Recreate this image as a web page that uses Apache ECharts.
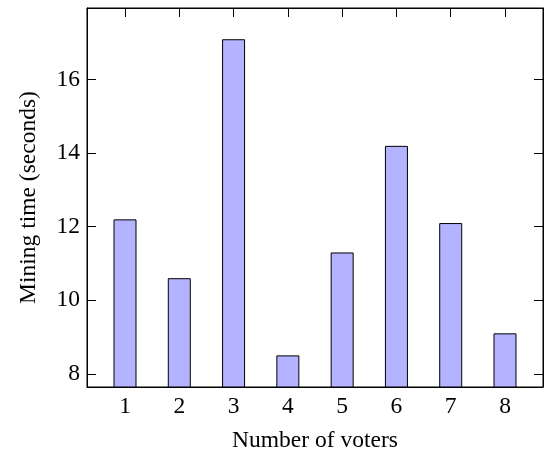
<!DOCTYPE html>
<html>
<head>
<meta charset="utf-8">
<script src="https://cdn.jsdelivr.net/npm/echarts@6/dist/echarts.min.js"></script>
<style>html,body{margin:0;padding:0;background:#fff}#c{width:550px;height:454px}</style>
</head>
<body>
<div id="c"></div>
<script>
const categories = [1, 2, 3, 4, 5, 6, 7, 8];
const miningTime = [12.2, 10.6, 17.1, 8.5, 11.3, 14.2, 12.1, 9.1];
const yTicks = [8, 10, 12, 14, 16];

const font = 'Liberation Serif, Times New Roman, serif';
const fs = 23.5;
const chart = echarts.init(document.getElementById('c'), null, {renderer: 'canvas'});
const xMin = 0.3, xMax = 8.7, yMin = 7.64, yMax = 17.95;
const tickLen = 9;

chart.setOption({
  animation: false,
  grid: {left: 87, top: 8, right: 7, bottom: 67, containLabel: false, outerBoundsMode: 'none', show: true, borderColor: '#000', borderWidth: 1, backgroundColor: 'transparent'},
  xAxis: [{
    type: 'value', min: xMin, max: xMax, position: 'bottom',
    name: 'Number of voters', nameLocation: 'middle', nameGap: 42,
    nameTextStyle: {fontFamily: font, fontSize: fs, color: '#000'},
    axisLine: {show: true, onZero: false, lineStyle: {color: '#000', width: 1}},
    axisTick: {show: true, inside: true, length: tickLen, customValues: categories, lineStyle: {color: '#000', width: 1}},
    axisLabel: {show: true, customValues: categories, fontFamily: font, fontSize: fs, color: '#000', margin: 8},
    splitLine: {show: false}
  }, {
    type: 'value', min: xMin, max: xMax, position: 'top',
    axisLine: {show: true, onZero: false, lineStyle: {color: '#000', width: 1}},
    axisTick: {show: true, inside: true, length: tickLen, customValues: categories, lineStyle: {color: '#000', width: 1}},
    axisLabel: {show: false},
    splitLine: {show: false}
  }],
  yAxis: [{
    type: 'value', min: yMin, max: yMax, position: 'left',
    name: 'Mining time (seconds)', nameLocation: 'middle', nameGap: 46, nameRotate: 90,
    nameTextStyle: {fontFamily: font, fontSize: fs, color: '#000'},
    axisLine: {show: true, onZero: false, lineStyle: {color: '#000', width: 1}},
    axisTick: {show: true, inside: true, length: tickLen, customValues: yTicks, lineStyle: {color: '#000', width: 1}},
    axisLabel: {show: true, customValues: yTicks, fontFamily: font, fontSize: fs, color: '#000', margin: 7},
    splitLine: {show: false}
  }, {
    type: 'value', min: yMin, max: yMax, position: 'right',
    axisLine: {show: true, onZero: false, lineStyle: {color: '#000', width: 1}},
    axisTick: {show: true, inside: true, length: tickLen, customValues: yTicks, lineStyle: {color: '#000', width: 1}},
    axisLabel: {show: false},
    splitLine: {show: false}
  }],
  series: [{
    type: 'bar',
    xAxisIndex: 0, yAxisIndex: 0,
    data: categories.map((c, i) => [c, miningTime[i]]),
    barWidth: 23,
    clip: true,
    itemStyle: {color: '#b3b3ff', borderColor: '#000', borderWidth: 1}
  }]
});
</script>
</body>
</html>
